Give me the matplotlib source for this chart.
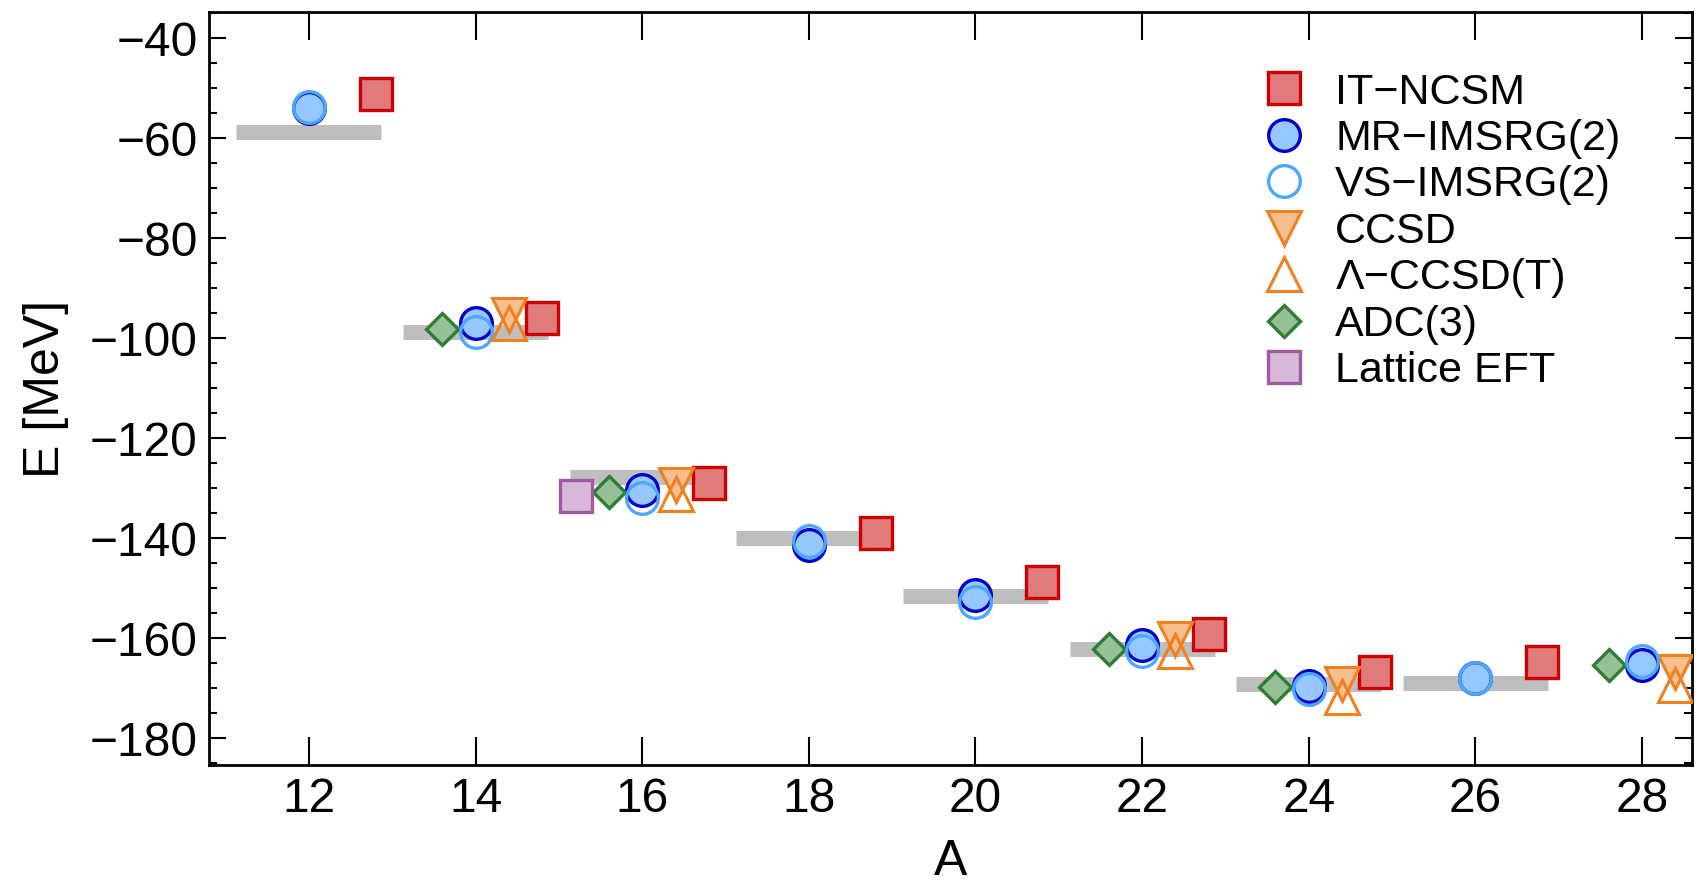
import matplotlib
matplotlib.use("Agg")
import matplotlib.pyplot as plt
from matplotlib.ticker import MultipleLocator, FuncFormatter

plt.rcParams["font.family"] = ["Liberation Sans", "DejaVu Sans"]

# experiment (gray bars)
A_exp = [12, 14, 16, 18, 20, 22, 24, 26]
E_exp = [-58.7, -98.8, -127.7, -139.9, -151.5, -162.1, -169.1, -169.0]

# IT-NCSM
A_ncsm = [12, 14, 16, 18, 20, 22, 24, 26]
E_ncsm = [-51.2, -95.9, -128.9, -139.0, -148.7, -159.1, -166.7, -164.7]

# IMSRG
A_imsrg = [12, 14, 16, 18, 20, 22, 24, 26, 28]
E_mr = [-54.0, -97.0, -130.3, -141.3, -151.3, -161.3, -169.5, -167.9, -165.4]
E_vs = [-53.7, -98.7, -132.0, -140.5, -152.7, -162.5, -170.2, -168.0, -164.5]

# coupled cluster
A_cc = [14, 16, 22, 24, 28]
E_ccsd = [-95.3, -129.3, -160.1, -169.1, -166.7]
E_lccsdt = [-97.0, -131.1, -162.5, -171.7, -169.3]

# ADC(3)
A_adc = [14, 16, 22, 24, 28]
E_adc = [-98.1, -130.8, -162.2, -169.8, -165.3]

# lattice EFT
A_lat = [16]
E_lat = [-131.5]

fig = plt.figure(figsize=(17.06, 8.82), dpi=100)
ax = fig.add_axes([0.1225, 0.1327, 0.8693, 0.8533])

ax.hlines(E_exp, [a - 0.87 for a in A_exp], [a + 0.87 for a in A_exp],
          color="#bebebe", linewidth=10.8, zorder=1)

ms = 23.3
mew = 2.4
ax.plot([a + 0.8 for a in A_ncsm], E_ncsm, "s", ms=ms, mew=mew, mfc="#e07b7b", mec="#cc0000",
        ls="none", label="IT\u2212NCSM", zorder=3)
ax.plot(A_imsrg, E_mr, "o", ms=22.8, mew=mew, mfc="#96c8ff", mec="#0000c8",
        ls="none", label="MR\u2212IMSRG(2)", zorder=3)
ax.plot(A_imsrg, E_vs, "o", ms=22.8, mew=mew, mfc="none", mec="#4da6ff",
        ls="none", label="VS\u2212IMSRG(2)", zorder=4)
ax.plot([a + 0.4 for a in A_cc], E_ccsd, "v", ms=25, mew=2.2, mfc="#f5bf8f", mec="#f08020",
        ls="none", label="CCSD", zorder=3)
ax.plot([a + 0.4 for a in A_cc], E_lccsdt, "^", ms=25, mew=2.2, mfc="none", mec="#f08020",
        ls="none", label="\u039b\u2212CCSD(T)", zorder=4)
ax.plot([a - 0.4 for a in A_adc], E_adc, "D", ms=16.8, mew=mew, mfc="#96c096", mec="#2e7d32",
        ls="none", label="ADC(3)", zorder=3)
ax.plot([a - 0.8 for a in A_lat], E_lat, "s", ms=ms, mew=mew, mfc="#d8b8d8", mec="#a05aa0",
        ls="none", label="Lattice EFT", zorder=3)

ax.set_xlim(10.8, 28.6)
ax.set_ylim(-185.3, -34.8)
ax.xaxis.set_major_locator(MultipleLocator(2))
ax.yaxis.set_major_locator(MultipleLocator(20))
ax.yaxis.set_minor_locator(MultipleLocator(5))
ax.yaxis.set_major_formatter(FuncFormatter(lambda v, p: f"{int(round(v))}".replace("-", "\u2212")))

ax.tick_params(axis="x", which="major", direction="in", length=20, width=1.5,
               top=True, labelsize=34.5, pad=9)
ax.tick_params(axis="y", which="major", direction="in", length=12.5, width=1.5,
               right=True, labelsize=34.5, pad=8)
ax.tick_params(axis="y", which="minor", direction="in", length=6, width=1.5, right=True)
for sp in ax.spines.values():
    sp.set_linewidth(2.0)

ax.set_xlabel("A", fontsize=36, labelpad=12)
ax.set_ylabel("E [MeV]", fontsize=36, labelpad=15)

ax.legend(loc="upper left", bbox_to_anchor=(0.7107, 0.92), frameon=False, fontsize=31,
          handlelength=1.0, handletextpad=0.68, labelspacing=0.15, borderpad=0, borderaxespad=0,
          numpoints=1)

fig.savefig("out.png", dpi=100)
